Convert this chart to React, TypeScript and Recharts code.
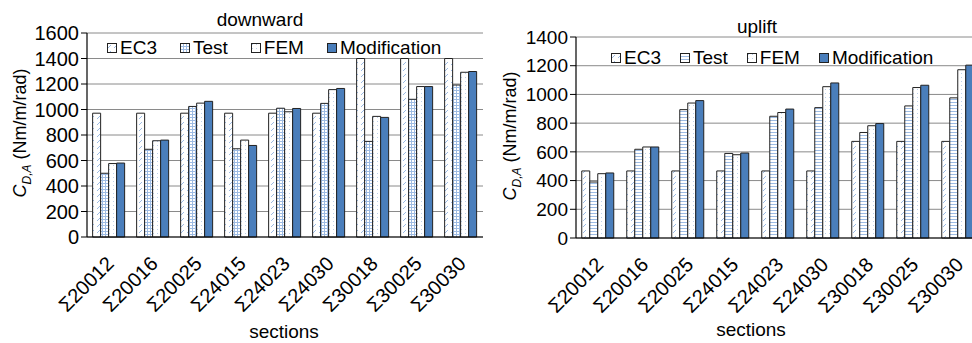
import { Bar, BarChart, CartesianGrid, XAxis, YAxis } from "recharts";

const SECTIONS = [
  "Σ20012",
  "Σ20016",
  "Σ20025",
  "Σ24015",
  "Σ24023",
  "Σ24030",
  "Σ30018",
  "Σ30025",
  "Σ30030",
];
const SERIES = ["EC3", "Test", "FEM", "Modification"];

// downward
const DOWN_EC3 = [971, 971, 971, 971, 971, 971, 1400, 1400, 1400];
const DOWN_TEST = [500, 688, 1024, 692, 1010, 1048, 750, 1080, 1192];
const DOWN_FEM = [576, 755, 1050, 760, 982, 1156, 946, 1180, 1292];
const DOWN_MOD = [580, 760, 1064, 718, 1008, 1165, 938, 1180, 1298];
const DOWN_TICKS = [0, 200, 400, 600, 800, 1000, 1200, 1400, 1600];

// uplift
const UP_EC3 = [467, 467, 467, 467, 467, 467, 673, 673, 673];
const UP_TEST = [390, 618, 894, 589, 848, 908, 735, 920, 976];
const UP_FEM = [448, 634, 940, 580, 874, 1054, 782, 1048, 1172];
const UP_MOD = [453, 634, 957, 592, 898, 1080, 797, 1064, 1204];
const UP_TICKS = [0, 200, 400, 600, 800, 1000, 1200, 1400];

const FONT = '"Liberation Sans", Arial, sans-serif';
const HATCH = "#9dbbe3";
const MOD_BLUE = "#4a7ebb";
const EDGE = "#222";

const toRows = (cols: number[][]) =>
  SECTIONS.map((section, i) => ({
    section,
    EC3: cols[0][i],
    Test: cols[1][i],
    FEM: cols[2][i],
    Modification: cols[3][i],
  }));

const downData = toRows([DOWN_EC3, DOWN_TEST, DOWN_FEM, DOWN_MOD]);
const upData = toRows([UP_EC3, UP_TEST, UP_FEM, UP_MOD]);

function Patterns({ prefix, testLines }: { prefix: string; testLines: "grid" | "rows" }) {
  return (
    <defs>
      <pattern id={`${prefix}-ec3`} width="6" height="6" patternUnits="userSpaceOnUse">
        <rect width="6" height="6" fill="#fff" />
        <path d="M1 5 L4 2" stroke={HATCH} strokeWidth="1" />
      </pattern>
      <pattern id={`${prefix}-test`} width="3" height="3" patternUnits="userSpaceOnUse">
        <rect width="3" height="3" fill="#fff" />
        <path d="M0 0.5 H3" stroke={HATCH} strokeWidth="1" />
        {testLines === "grid" && <path d="M0.5 0 V3" stroke={HATCH} strokeWidth="1" />}
      </pattern>
      <pattern id={`${prefix}-fem`} width="4" height="4" patternUnits="userSpaceOnUse">
        <rect width="4" height="4" fill="#fff" />
        <rect x="1" y="1" width="1" height="1" fill="#bcd0ea" />
      </pattern>
    </defs>
  );
}

const fillsFor = (prefix: string) => [
  `url(#${prefix}-ec3)`,
  `url(#${prefix}-test)`,
  `url(#${prefix}-fem)`,
  MOD_BLUE,
];

function SectionTick({ x, y, payload }: any) {
  return (
    <g transform={`translate(${x + 6},${y + 28})`}>
      <text
        transform="rotate(-45)"
        textAnchor="end"
        fontSize={20}
        fontFamily={FONT}
        fill="#000"
      >
        {payload.value}
      </text>
    </g>
  );
}

type PanelProps = {
  data: typeof downData;
  prefix: string;
  testLines: "grid" | "rows";
  ticks: number[];
  tickFont: number;
  axisWidth: number;
  plotTop: number;
  plotBottom: number;
  plotWidth: number;
};

function Panel({
  data,
  prefix,
  testLines,
  ticks,
  tickFont,
  axisWidth,
  plotTop,
  plotBottom,
  plotWidth,
}: PanelProps) {
  const height = 343;
  const xAxisHeight = 100;
  const fills = fillsFor(prefix);
  return (
    <BarChart
      width={axisWidth + plotWidth + 20}
      height={height}
      data={data}
      margin={{
        top: plotTop,
        right: 20,
        left: 0,
        bottom: height - plotBottom - xAxisHeight,
      }}
      barCategoryGap="12.8%"
      barGap={0}
    >
      <Patterns prefix={prefix} testLines={testLines} />
      <CartesianGrid vertical={false} stroke="#8a8a8a" strokeWidth={1} />
      <XAxis
        dataKey="section"
        interval={0}
        height={xAxisHeight}
        tickLine={false}
        tickSize={0}
        tickMargin={0}
        axisLine={{ stroke: "#000", strokeWidth: 1.2 }}
        tick={<SectionTick />}
      />
      <YAxis
        width={axisWidth}
        domain={[0, ticks[ticks.length - 1]]}
        ticks={ticks}
        interval={0}
        tickSize={6}
        tickMargin={2}
        tickLine={{ stroke: "#000" }}
        axisLine={{ stroke: "#000", strokeWidth: 1.2 }}
        tick={{ fill: "#000", fontSize: tickFont, fontFamily: FONT }}
      />
      {SERIES.map((name, i) => (
        <Bar
          key={name}
          dataKey={name}
          fill={fills[i]}
          stroke={EDGE}
          strokeWidth={1}
          isAnimationActive={false}
        />
      ))}
    </BarChart>
  );
}

function LegendRow({
  prefix,
  left,
  top,
  gap,
}: {
  prefix: string;
  left: number;
  top: number;
  gap: number;
}) {
  const fills = fillsFor(prefix);
  return (
    <div
      style={{
        position: "absolute",
        left,
        top,
        display: "flex",
        alignItems: "center",
        gap,
        fontFamily: FONT,
        fontSize: 19,
        lineHeight: "20px",
        color: "#000",
        whiteSpace: "nowrap",
      }}
    >
      {SERIES.map((name, i) => (
        <div key={name} style={{ display: "flex", alignItems: "center", gap: 3 }}>
          <svg width={10} height={10}>
            <rect x={0.5} y={0.5} width={9} height={9} fill={fills[i]} stroke={EDGE} />
          </svg>
          <span>{name}</span>
        </div>
      ))}
    </div>
  );
}

function YLabel({ cx, cy }: { cx: number; cy: number }) {
  return (
    <div
      style={{
        position: "absolute",
        left: cx,
        top: cy,
        transform: "translate(-50%, -50%) rotate(-90deg)",
        fontFamily: FONT,
        fontSize: 18,
        whiteSpace: "nowrap",
        color: "#000",
      }}
    >
      <i>C</i>
      <sub style={{ fontSize: 12 }}>
        <i>D,A</i>
      </sub>{" "}
      (Nm/m/rad)
    </div>
  );
}

function Caption({ text, cx, cy }: { text: string; cx: number; cy: number }) {
  return (
    <div
      style={{
        position: "absolute",
        left: cx,
        top: cy,
        transform: "translate(-50%, -50%)",
        fontFamily: FONT,
        fontSize: 19,
        lineHeight: "20px",
        whiteSpace: "nowrap",
        color: "#000",
      }}
    >
      {text}
    </div>
  );
}

export default function App() {
  return (
    <div
      style={{
        position: "absolute",
        left: 0,
        top: 0,
        width: 972,
        height: 343,
        overflow: "hidden",
        background: "#fff",
      }}
    >
      <div style={{ position: "absolute", left: 0, top: 0, width: 484, height: 343, overflow: "hidden" }}>
        <Panel
          data={downData}
          prefix="dn"
          testLines="grid"
          ticks={DOWN_TICKS}
          tickFont={20}
          axisWidth={87}
          plotTop={33}
          plotBottom={237}
          plotWidth={396}
        />
      </div>
      <div style={{ position: "absolute", left: 480, top: 0, width: 492, height: 343, overflow: "hidden" }}>
        <Panel
          data={upData}
          prefix="up"
          testLines="rows"
          ticks={UP_TICKS}
          tickFont={19}
          axisWidth={96}
          plotTop={37}
          plotBottom={238}
          plotWidth={405}
        />
      </div>

      <Caption text="downward" cx={260} cy={20} />
      <Caption text="uplift" cx={757} cy={27} />
      <Caption text="sections" cx={284} cy={332} />
      <Caption text="sections" cx={751} cy={330} />
      <YLabel cx={22} cy={133} />
      <YLabel cx={512} cy={136} />
      <LegendRow prefix="dn" left={107} top={38} gap={23} />
      <LegendRow prefix="up" left={611} top={48} gap={19} />
    </div>
  );
}
